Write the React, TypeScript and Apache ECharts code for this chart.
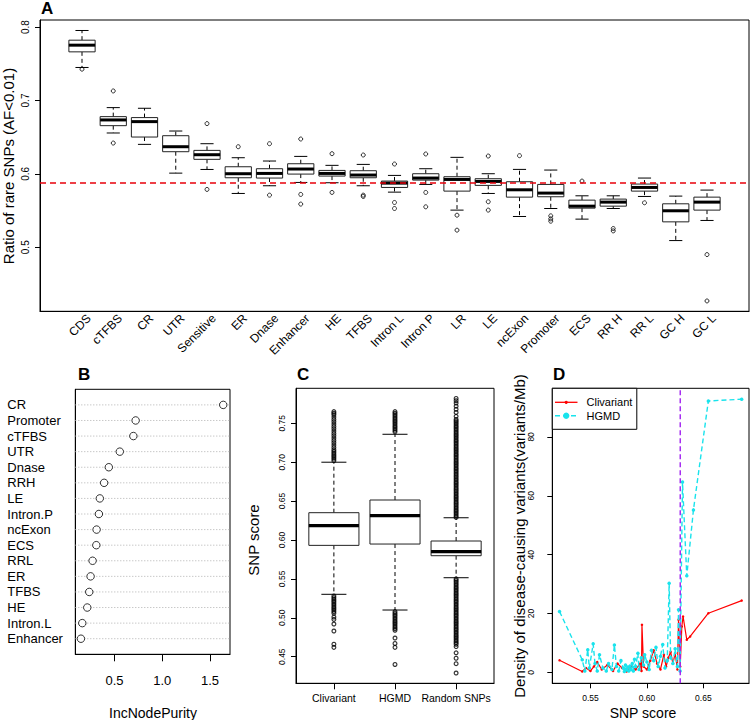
import React, { useEffect, useRef } from "react";
import * as echarts from "echarts";

const FONT = '"Liberation Sans", Arial, Helvetica, sans-serif';

// ---------------- Panel A: ratio of rare SNPs per region ----------------
const regionNames = ["CDS", "cTFBS", "CR", "UTR", "Sensitive", "ER", "Dnase", "Enhancer", "HE", "TFBS", "Intron L", "Intron P", "LR", "LE", "ncExon", "Promoter", "ECS", "RR H", "RR L", "GC H", "GC L"];
const regionLow = [0.745, 0.6557, 0.6402, 0.601, 0.606, 0.5733, 0.5838, 0.5883, 0.5879, 0.5838, 0.5751, 0.5856, 0.5506, 0.5733, 0.5419, 0.5528, 0.5383, 0.5528, 0.5692, 0.5091, 0.5365];
const regionQ1 = [0.7663, 0.6657, 0.6502, 0.6302, 0.6198, 0.5947, 0.5943, 0.5997, 0.597, 0.5947, 0.5815, 0.5915, 0.5765, 0.5843, 0.5683, 0.5688, 0.5533, 0.556, 0.5765, 0.5346, 0.5506];
const regionMedian = [0.7754, 0.6735, 0.6712, 0.637, 0.6261, 0.6002, 0.6006, 0.6066, 0.6006, 0.5984, 0.5874, 0.5943, 0.5924, 0.5897, 0.5783, 0.5738, 0.556, 0.5615, 0.5815, 0.5497, 0.5615];
const regionQ3 = [0.7822, 0.678, 0.6767, 0.652, 0.632, 0.6097, 0.607, 0.6138, 0.6047, 0.6043, 0.5902, 0.6002, 0.5961, 0.5934, 0.5893, 0.5856, 0.5642, 0.5656, 0.5861, 0.5592, 0.5683];
const regionHigh = [0.7954, 0.6903, 0.6894, 0.6584, 0.6411, 0.622, 0.6175, 0.6238, 0.6116, 0.6129, 0.5979, 0.607, 0.6225, 0.6002, 0.6061, 0.6052, 0.5701, 0.5701, 0.5943, 0.5697, 0.5779];
const regionOutliers = [
  [0.7427], [0.713, 0.642], [], [], [0.6685, 0.5788], [0.637], [0.6411, 0.571],
  [0.6475, 0.572, 0.5588], [0.6275, 0.5747], [0.6257, 0.571, 0.5692], [0.6134, 0.561, 0.5528],
  [0.6271, 0.5747, 0.5551], [0.5437, 0.5233], [0.6243, 0.562, 0.5506], [0.6248],
  [0.5428, 0.5387, 0.5355], [0.5902], [0.5255, 0.5223], [0.5606], [], [0.49, 0.4268],
];
const genomeAverage = 0.5874;
const regionTicks = [0.5, 0.6, 0.7, 0.8];

// ---------------- Panel B: variable importance ----------------
const featureNames = ["CR", "Promoter", "cTFBS", "UTR", "Dnase", "RRH", "LE", "Intron.P", "ncExon", "ECS", "RRL", "ER", "TFBS", "HE", "Intron.L", "Enhancer"];
const featurePurity = [1.639, 0.722, 0.698, 0.556, 0.441, 0.392, 0.347, 0.337, 0.313, 0.31, 0.271, 0.25, 0.236, 0.215, 0.163, 0.149];
const purityTicks = [0.5, 1.0, 1.5];

// ---------------- Panel C: SNP score distributions ----------------
const groupNames = ["Clivariant", "HGMD", "Random SNPs"];
const groupLow = [0.5302, 0.51, 0.5515];
const groupQ1 = [0.5931, 0.5948, 0.5798];
const groupMedian = [0.6184, 0.6313, 0.585];
const groupQ3 = [0.6351, 0.6514, 0.5987];
const groupHigh = [0.7, 0.7359, 0.6286];
const clivariantOutliers = [0.702, 0.704, 0.706, 0.708, 0.71, 0.712, 0.714, 0.716, 0.719, 0.722, 0.725, 0.728, 0.731, 0.734, 0.737, 0.74, 0.743, 0.746, 0.749, 0.752, 0.755, 0.758, 0.761, 0.763, 0.765,
  0.528, 0.526, 0.524, 0.522, 0.52, 0.518, 0.516, 0.514, 0.512, 0.51, 0.508, 0.506, 0.501, 0.498, 0.492, 0.483, 0.466, 0.462];
const hgmdOutliers = [0.739, 0.741, 0.743, 0.745, 0.747, 0.749, 0.751, 0.753, 0.755, 0.757, 0.759, 0.761, 0.763, 0.765,
  0.508, 0.506, 0.504, 0.502, 0.5, 0.498, 0.496, 0.494, 0.492, 0.49, 0.488, 0.486, 0.484, 0.474, 0.467, 0.462, 0.44];
const randomOutliers = [0.629, 0.631, 0.633, 0.635, 0.637, 0.639, 0.641, 0.643, 0.645, 0.647, 0.649, 0.651, 0.653, 0.655, 0.657, 0.659, 0.661, 0.663, 0.665, 0.667, 0.669, 0.671, 0.673, 0.675, 0.677, 0.679, 0.681, 0.683, 0.685, 0.687, 0.689, 0.691, 0.693, 0.695, 0.697, 0.699, 0.701, 0.703, 0.705, 0.707, 0.709, 0.711, 0.713, 0.715, 0.717, 0.719, 0.721, 0.723, 0.725, 0.727, 0.729, 0.731, 0.733, 0.735, 0.737, 0.739, 0.741, 0.743, 0.745, 0.747, 0.749, 0.751, 0.753, 0.755, 0.759, 0.764, 0.768, 0.772, 0.776, 0.779, 0.782,
  0.55, 0.548, 0.546, 0.544, 0.542, 0.54, 0.538, 0.536, 0.534, 0.532, 0.53, 0.528, 0.526, 0.524, 0.522, 0.52, 0.518, 0.516, 0.514, 0.512, 0.51, 0.508, 0.506, 0.504, 0.502, 0.5, 0.498, 0.496, 0.494, 0.492, 0.49, 0.488, 0.486, 0.484, 0.482, 0.48, 0.478, 0.476, 0.474, 0.472, 0.47, 0.468, 0.466, 0.463, 0.455, 0.448, 0.441, 0.429];
const scoreTicks = [0.45, 0.5, 0.55, 0.6, 0.65, 0.7, 0.75];

// ---------------- Panel D: density of disease-causing variants ----------------
const clivScore = [0.5226, 0.5427, 0.546, 0.55, 0.553, 0.556, 0.56, 0.565, 0.57, 0.574, 0.578, 0.582, 0.586, 0.59, 0.594, 0.5952, 0.5956, 0.597, 0.6, 0.603, 0.606, 0.609, 0.612, 0.615, 0.617, 0.619, 0.621, 0.623, 0.625, 0.627, 0.628, 0.6295, 0.6309, 0.632, 0.6353, 0.6383, 0.6544, 0.6839];
const clivDensity = [4.1, 0.3, 1.5, 0.5, 2, 3.5, 1, 2.5, 0.5, 3, 1.5, 0.3, 2, 1, 3, 0.5, 16.2, 2, 1, 4, 7.5, 3, 1, 6, 2, 5, 7, 3, 6.5, 1, 17.9, 2, 15.6, 19, 11.1, 12.2, 20.1, 24.4];
const hgmdScore = [0.5226, 0.5427, 0.545, 0.5476, 0.549, 0.5524, 0.554, 0.556, 0.558, 0.561, 0.564, 0.566, 0.569, 0.5712, 0.573, 0.575, 0.577, 0.579, 0.58, 0.581, 0.582, 0.583, 0.584, 0.585, 0.586, 0.587, 0.588, 0.589, 0.59, 0.592, 0.593, 0.595, 0.597, 0.598, 0.6, 0.602, 0.604, 0.606, 0.608, 0.61, 0.612, 0.614, 0.616, 0.618, 0.6197, 0.621, 0.623, 0.625, 0.627, 0.628, 0.6294, 0.6315, 0.6353, 0.6412, 0.6544, 0.6839];
const hgmdDensity = [20.7, 4.3, 0.5, 7.7, 1.5, 9.7, 3, 0.5, 6, 1.5, 0.5, 3, 1, 9.3, 2, 0.5, 4, 1.5, 0.3, 2.5, 0.8, 1.8, 0.5, 2.2, 1, 3, 0.5, 4.5, 2, 6.5, 1, 5, 2.5, 6, 3.5, 1, 7.5, 4, 8.5, 2, 5.5, 9.5, 1.5, 4, 30.3, 5, 3, 8, 2, 21.3, 0.5, 64.7, 32.8, 55.2, 92.2, 92.8];
const scoreCutoff = 0.6295;
const densityTicks = [0, 20, 40, 60, 80];
const snpScoreTicks = [0.55, 0.6, 0.65];

// axis extents (R's 4% padded ranges)
const A_X = [-0.344, 22.344];
const A_Y = [0.4127, 0.8097];
const B_X = [0.09, 1.71];
const C_X = [0.38, 3.62];
const C_Y = [0.4158, 0.795];
const D_X = [0.5162, 0.6904];
const D_Y = [-3.7, 96.5];

// ---------------- helpers ----------------
function boxRenderer(widthFrac: number, capFrac: number, medianWidth: number) {
  return (_params: any, api: any) => {
    const x = api.value(0);
    const unit = api.size([1, 0])[0];
    const bw = unit * widthFrac;
    const cw = bw * capFrac;
    const pLo = api.coord([x, api.value(1)]);
    const cx = pLo[0];
    const yLo = pLo[1];
    const yQ1 = api.coord([x, api.value(2)])[1];
    const yMed = api.coord([x, api.value(3)])[1];
    const yQ3 = api.coord([x, api.value(4)])[1];
    const yHi = api.coord([x, api.value(5)])[1];
    const solid = { stroke: "#000", lineWidth: 1, fill: null };
    const dashed = { stroke: "#000", lineWidth: 1, lineDash: [4, 3], fill: null };
    return {
      type: "group",
      children: [
        { type: "line", shape: { x1: cx, y1: yQ3, x2: cx, y2: yHi }, style: dashed },
        { type: "line", shape: { x1: cx, y1: yQ1, x2: cx, y2: yLo }, style: dashed },
        { type: "line", shape: { x1: cx - cw / 2, y1: yHi, x2: cx + cw / 2, y2: yHi }, style: solid },
        { type: "line", shape: { x1: cx - cw / 2, y1: yLo, x2: cx + cw / 2, y2: yLo }, style: solid },
        { type: "rect", shape: { x: cx - bw / 2, y: yQ3, width: bw, height: yQ1 - yQ3 }, style: { fill: "#fff", stroke: "#222", lineWidth: 1 } },
        { type: "line", shape: { x1: cx - bw / 2, y1: yMed, x2: cx + bw / 2, y2: yMed }, style: { stroke: "#000", lineWidth: medianWidth } },
      ],
    };
  };
}

function rowRuleRenderer(_params: any, api: any) {
  const row = api.value(0);
  const p1 = api.coord([B_X[0], row]);
  const p2 = api.coord([B_X[1], row]);
  return {
    type: "line",
    shape: { x1: p1[0], y1: p1[1], x2: p2[0], y2: p2[1] },
    style: { stroke: "#b0b0b0", lineWidth: 1, lineDash: [1, 2], fill: null },
  };
}

const txt = (size: number) => ({ color: "#000", fontFamily: FONT, fontSize: size });
const gridBase = { show: true, borderColor: "#000", borderWidth: 1 };
const tickStyle = { lineStyle: { color: "#000", width: 1 } };
const frameLine = () => ({ show: true, onZero: false, lineStyle: { color: "#000", width: 1 } });
const openCircle = { color: "rgba(255,255,255,0)", borderColor: "#000", borderWidth: 1 };
const LABEL_SHIFT = 0.22;

function textEl(text: string, x: number, y: number, size: number, opts: any = {}) {
  return {
    type: "text",
    x,
    y,
    rotation: opts.rotation || 0,
    z: 100,
    silent: true,
    style: {
      text,
      fill: "#000",
      font: `${opts.bold ? "bold " : ""}${size}px ${FONT}`,
      textAlign: opts.align || "center",
      textVerticalAlign: "middle",
    },
  };
}

function buildOption(): any {
  const regionLabelPos = regionNames.map((_, i) => i + 1 + LABEL_SHIFT);
  const featureIdx = featureNames.map((_, i) => i + 1);
  const groupIdx = groupNames.map((_, i) => i + 1);

  const regionBoxes = regionNames.map((_, i) => [i + 1, regionLow[i], regionQ1[i], regionMedian[i], regionQ3[i], regionHigh[i]]);
  const regionOutPts: number[][] = [];
  regionOutliers.forEach((arr, i) => arr.forEach((v) => regionOutPts.push([i + 1, v])));

  const groupBoxes = groupNames.map((_, i) => [i + 1, groupLow[i], groupQ1[i], groupMedian[i], groupQ3[i], groupHigh[i]]);
  const groupOutPts: number[][] = [];
  [clivariantOutliers, hgmdOutliers, randomOutliers].forEach((arr, i) => arr.forEach((v) => groupOutPts.push([i + 1, v])));

  const rotLabel = { rotate: 90, verticalAlign: "bottom", align: "center" };

  return {
    animation: false,
    backgroundColor: "#fff",
    grid: [
      { ...gridBase, left: 40, top: 20, width: 709, height: 291.3 },
      { ...gridBase, left: 75.3, top: 389.3, width: 154.7, height: 265 },
      { ...gridBase, left: 296, top: 388.3, width: 198, height: 295 },
      { ...gridBase, left: 552.3, top: 388.3, width: 196.7, height: 295 },
    ],
    xAxis: [
      {
        gridIndex: 0, type: "value", min: A_X[0], max: A_X[1],
        axisLine: frameLine(), splitLine: { show: false }, axisTick: { show: false },
        axisLabel: { ...txt(12), customValues: regionLabelPos, rotate: 45, margin: 5, formatter: (v: number) => regionNames[Math.round(v - LABEL_SHIFT) - 1] || "" },
      },
      {
        gridIndex: 1, type: "value", min: B_X[0], max: B_X[1],
        axisLine: frameLine(), splitLine: { show: false },
        axisTick: { show: true, length: 7, customValues: purityTicks, ...tickStyle },
        axisLabel: { ...txt(13), customValues: purityTicks, margin: 20, formatter: (v: number) => v.toFixed(1) },
      },
      {
        gridIndex: 2, type: "value", min: C_X[0], max: C_X[1],
        axisLine: frameLine(), splitLine: { show: false },
        axisTick: { show: true, length: 6, customValues: groupIdx, ...tickStyle },
        axisLabel: { ...txt(10.5), customValues: groupIdx, margin: 9, formatter: (v: number) => groupNames[Math.round(v) - 1] || "" },
      },
      {
        gridIndex: 3, type: "value", min: D_X[0], max: D_X[1],
        axisLine: frameLine(), splitLine: { show: false },
        axisTick: { show: true, length: 5, customValues: snpScoreTicks, ...tickStyle },
        axisLabel: { ...txt(8.5), customValues: snpScoreTicks, margin: 10, formatter: (v: number) => v.toFixed(2) },
      },
    ],
    yAxis: [
      {
        gridIndex: 0, type: "value", min: A_Y[0], max: A_Y[1],
        axisLine: frameLine(), splitLine: { show: false },
        axisTick: { show: true, length: 5, customValues: regionTicks, ...tickStyle },
        axisLabel: { ...txt(10), ...rotLabel, customValues: regionTicks, margin: 10, formatter: (v: number) => v.toFixed(1) },
      },
      {
        gridIndex: 1, type: "value", min: 0, max: 17, inverse: true,
        axisLine: frameLine(), splitLine: { show: false }, axisTick: { show: false },
        axisLabel: { ...txt(13), customValues: featureIdx, align: "left", margin: 68, formatter: (v: number) => featureNames[Math.round(v) - 1] || "" },
      },
      {
        gridIndex: 2, type: "value", min: C_Y[0], max: C_Y[1],
        axisLine: frameLine(), splitLine: { show: false },
        axisTick: { show: true, length: 5, customValues: scoreTicks, ...tickStyle },
        axisLabel: { ...txt(8.5), ...rotLabel, customValues: scoreTicks, margin: 10, formatter: (v: number) => v.toFixed(2) },
      },
      {
        gridIndex: 3, type: "value", min: D_Y[0], max: D_Y[1],
        axisLine: frameLine(), splitLine: { show: false },
        axisTick: { show: true, length: 5, customValues: densityTicks, ...tickStyle },
        axisLabel: { ...txt(8.5), ...rotLabel, customValues: densityTicks, margin: 17, formatter: (v: number) => String(v) },
      },
    ],
    series: [
      {
        type: "line", xAxisIndex: 0, yAxisIndex: 0, silent: true, showSymbol: false, symbol: "none",
        data: [[A_X[0], genomeAverage], [A_X[1], genomeAverage]],
        lineStyle: { color: "#e8000b", type: [6, 4], width: 1.5 }, z: 4,
      },
      {
        type: "custom", xAxisIndex: 0, yAxisIndex: 0, silent: true,
        renderItem: boxRenderer(0.84, 0.5, 3), data: regionBoxes,
        encode: { x: 0, y: [1, 2, 3, 4, 5] }, z: 2,
      },
      {
        type: "scatter", xAxisIndex: 0, yAxisIndex: 0, silent: true, data: regionOutPts,
        symbol: "circle", symbolSize: 4, itemStyle: openCircle, z: 3,
      },
      {
        type: "custom", xAxisIndex: 1, yAxisIndex: 1, silent: true,
        renderItem: rowRuleRenderer, data: featureIdx.map((v) => [v]),
        encode: { y: 0 }, z: 1,
      },
      {
        type: "scatter", xAxisIndex: 1, yAxisIndex: 1, silent: true,
        data: featureNames.map((_, i) => [featurePurity[i], i + 1]),
        symbol: "circle", symbolSize: 7.5, itemStyle: { color: "#fff", borderColor: "#000", borderWidth: 1 }, z: 3,
      },
      {
        type: "custom", xAxisIndex: 2, yAxisIndex: 2, silent: true,
        renderItem: boxRenderer(0.82, 0.5, 3.3), data: groupBoxes,
        encode: { x: 0, y: [1, 2, 3, 4, 5] }, z: 2,
      },
      {
        type: "scatter", xAxisIndex: 2, yAxisIndex: 2, silent: true, data: groupOutPts,
        symbol: "circle", symbolSize: 3.8, itemStyle: { ...openCircle, borderWidth: 1.2 }, z: 3,
      },
      {
        type: "line", xAxisIndex: 3, yAxisIndex: 3, silent: true, showSymbol: false, symbol: "none",
        data: [[scoreCutoff, D_Y[0]], [scoreCutoff, D_Y[1]]],
        lineStyle: { color: "#a020f0", type: [5, 3], width: 1.4 }, z: 5,
      },
      {
        type: "line", name: "Clivariant", xAxisIndex: 3, yAxisIndex: 3, silent: true,
        data: clivScore.map((s, i) => [s, clivDensity[i]]),
        symbol: "circle", symbolSize: 2.5, showSymbol: true,
        lineStyle: { color: "#ff0000", width: 1.2 }, itemStyle: { color: "#ff0000" }, z: 3,
      },
      {
        type: "line", name: "HGMD", xAxisIndex: 3, yAxisIndex: 3, silent: true,
        data: hgmdScore.map((s, i) => [s, hgmdDensity[i]]),
        symbol: "circle", symbolSize: 3.5, showSymbol: true,
        lineStyle: { color: "#19e3ec", width: 1.4, type: [5, 3] }, itemStyle: { color: "#19e3ec" }, z: 4,
      },
    ],
    graphic: [
      textEl("A", 41, 8, 17, { bold: true, align: "left" }),
      textEl("B", 78, 374, 17, { bold: true, align: "left" }),
      textEl("C", 297, 374, 17, { bold: true, align: "left" }),
      textEl("D", 553, 374, 17, { bold: true, align: "left" }),
      textEl("Ratio of rare SNPs (AF<0.01)", 8, 166, 15, { rotation: Math.PI / 2 }),
      textEl("IncNodePurity", 153, 713, 14),
      textEl("SNP score", 253, 540, 15, { rotation: Math.PI / 2 }),
      textEl("Density of disease-causing variants(variants/Mb)", 519, 536, 15, { rotation: Math.PI / 2 }),
      textEl("SNP score", 643, 713, 14),
      {
        type: "group", z: 100, silent: true,
        children: [
          { type: "rect", shape: { x: 552.3, y: 388.3, width: 84.5, height: 41 }, style: { fill: "#fff", stroke: "#000", lineWidth: 1 }, z: 100 },
          { type: "line", shape: { x1: 555, y1: 402.3, x2: 577.5, y2: 402.3 }, style: { stroke: "#ff0000", lineWidth: 1.3 }, z: 101 },
          { type: "circle", shape: { cx: 566.2, cy: 402.3, r: 1.6 }, style: { fill: "#ff0000" }, z: 101 },
          { type: "line", shape: { x1: 555, y1: 415.7, x2: 577.5, y2: 415.7 }, style: { stroke: "#19e3ec", lineWidth: 1.4, lineDash: [5, 3] }, z: 101 },
          { type: "circle", shape: { cx: 566.2, cy: 415.7, r: 3.2 }, style: { fill: "#19e3ec" }, z: 101 },
          { type: "text", x: 586.5, y: 402.3, z: 101, style: { text: "Clivariant", fill: "#000", font: `11px ${FONT}`, textAlign: "left", textVerticalAlign: "middle" } },
          { type: "text", x: 586.5, y: 415.7, z: 101, style: { text: "HGMD", fill: "#000", font: `11px ${FONT}`, textAlign: "left", textVerticalAlign: "middle" } },
        ],
      },
    ],
  };
}

export default function App() {
  const ref = useRef<HTMLDivElement>(null);
  useEffect(() => {
    if (!ref.current) return;
    const chart = echarts.init(ref.current, null, { renderer: "svg" });
    chart.setOption(buildOption());
    return () => chart.dispose();
  }, []);
  return (
    <div
      ref={ref}
      style={{ position: "absolute", left: 0, top: 0, width: 750, height: 720, background: "#fff" }}
    />
  );
}
